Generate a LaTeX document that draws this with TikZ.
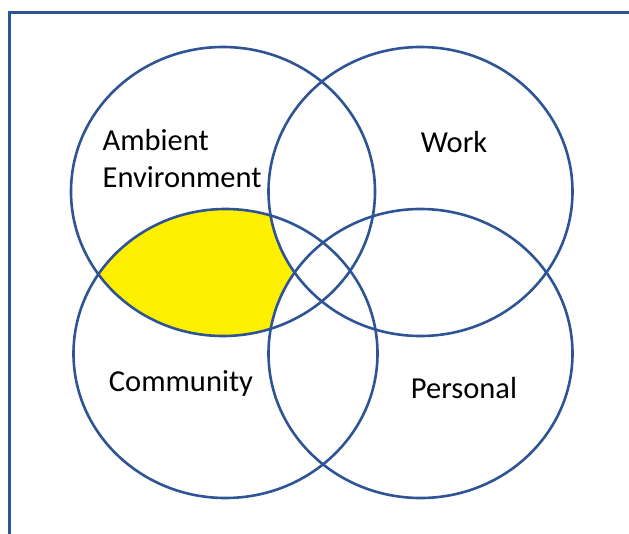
\documentclass[tikz,border=0pt]{standalone}
\usepackage{fontspec}
\setmainfont{Carlito}
\definecolor{vblue}{RGB}{47,84,150}
\definecolor{vyellow}{RGB}{255,240,0}
\begin{document}
\begin{tikzpicture}[x=1pt,y=-1pt,
  ring/.style={draw=vblue,line width=2.6pt},
  lbl/.style={font=\fontsize{30.5}{37}\selectfont,inner sep=0pt,text=black}]
\useasboundingbox (0,0) rectangle (629,533);
\def\rx{152}\def\ry{144.5}
\coordinate (A) at (223,191.5);
\coordinate (W) at (420.5,191.5);
\coordinate (C) at (225.5,353.5);
\coordinate (P) at (420.5,353.5);
% highlighted region: Ambient and Community, outside Work and Personal
\begin{scope}
  \clip (A) ellipse [x radius=\rx, y radius=\ry];
  \clip (C) ellipse [x radius=\rx, y radius=\ry];
  \begin{scope}[even odd rule]
    \clip (-10,-10) rectangle (640,540) (W) ellipse [x radius=\rx, y radius=\ry];
    \fill[vyellow] (-10,-10) rectangle (640,540) (P) ellipse [x radius=\rx, y radius=\ry];
  \end{scope}
\end{scope}
% frame
\draw[vblue,line width=2.6pt] (9.5,540) -- (9.5,12.5) -- (640,12.5);
% circles
\draw[ring] (A) ellipse [x radius=\rx, y radius=\ry];
\draw[ring] (W) ellipse [x radius=\rx, y radius=\ry];
\draw[ring] (C) ellipse [x radius=\rx, y radius=\ry];
\draw[ring] (P) ellipse [x radius=\rx, y radius=\ry];
% labels
\node[lbl,align=left,anchor=west] (amb) at (102.5,158.5) {Ambient\\Environment};
\node[lbl] (work) at (454,142) {Work};
\node[lbl] (comm) at (181,383) {Community};
\node[lbl] (pers) at (464,388) {Personal};
\end{tikzpicture}
\end{document}
